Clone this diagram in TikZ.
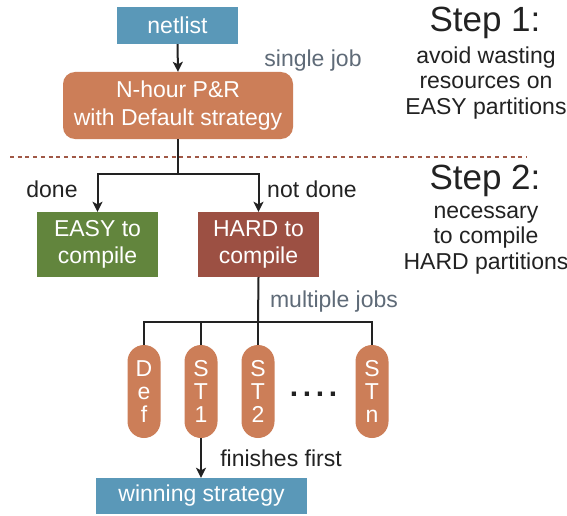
\documentclass[tikz,border=0pt]{standalone}
\usepackage{fontspec}
\setmainfont{Liberation Sans}
\usetikzlibrary{arrows.meta}
\definecolor{cblue}{HTML}{5A98B8}
\definecolor{corange}{HTML}{CC7E58}
\definecolor{cgreen}{HTML}{62853D}
\definecolor{cred}{HTML}{9C5043}
\definecolor{cgray}{HTML}{5F6B78}
\definecolor{cdot}{HTML}{A05846}
\definecolor{cink}{HTML}{222222}
\tikzset{
  box/.style={draw=none, text=white, align=center, inner sep=0pt,
    font=\fontsize{23}{27.5}\selectfont},
  bluebox/.style={box, fill=cblue},
  pill/.style={box, fill=corange, minimum width=33pt, minimum height=93pt,
    rounded corners=16.5pt, font=\fontsize{23}{23}\selectfont},
  lbl/.style={text=cink, font=\fontsize{23}{25.5}\selectfont, inner sep=0pt},
  glbl/.style={text=cgray, font=\fontsize{23}{25}\selectfont, inner sep=0pt},
  conn/.style={draw=cink, line width=2pt},
  arr/.style={conn, -{Stealth[length=10pt,width=10pt,inset=2.5pt]}},
}
\begin{document}
\begin{tikzpicture}[x=1pt,y=-1pt]
\useasboundingbox (0,0) rectangle (567,516);
\fill[white] (0,0) rectangle (567,516);

% nodes
\node[bluebox, minimum width=121pt, minimum height=37pt] (net) at (177.5,25.5) {netlist};
\node[box, fill=corange, minimum width=230pt, minimum height=67pt, rounded corners=12pt] (pr) at (178,105.5) {N-hour P\&R\\with Default strategy};
\node[box, fill=cgreen, minimum width=121pt, minimum height=65pt] (easy) at (97.5,244.5) {EASY to\\compile};
\node[box, fill=cred, minimum width=121pt, minimum height=65pt] (hard) at (258.5,244.5) {HARD to\\compile};

\node[pill] (def) at (144,391.5) {D\\e\\f};
\node[pill] (st1) at (201,391.5) {S\\T\\1};
\node[pill] (st2) at (258,391.5) {S\\T\\2};
\node[pill] (stn) at (372,391.5) {S\\T\\n};
\node[anchor=base, inner sep=0pt, text=cink, font=\fontsize{30}{30}\selectfont\bfseries] (dots) at (313.5,396) {.\kern4.6pt.\kern4.6pt.\kern4.6pt.};

\node[bluebox, minimum width=211pt, minimum height=36pt] (win) at (201.5,496) {winning strategy};

% labels
\node[glbl] (single) at (313,61) {single job};
\node[lbl] (done) at (52,189) {done};
\node[lbl] (notdone) at (312,189) {not done};
\node[glbl] (multi) at (334,302) {multiple jobs};
\node[lbl] (fin) at (281,458) {finishes first};

\node[lbl, font=\fontsize{35}{35}\selectfont] (s1) at (485,23) {Step 1:};
\node[lbl, align=center] (s1t) at (486,83) {avoid wasting\\resources on\\EASY partitions};
\node[lbl, font=\fontsize{35}{35}\selectfont] (s2) at (485,181) {Step 2:};
\node[lbl, align=center] (s2t) at (486,240) {necessary\\to compile\\HARD partitions};

% separator
\coordinate (sepL) at (10,157);
\coordinate (sepR) at (527,157);
\draw[cdot, line width=2pt, dash pattern=on 4pt off 3.7pt] (sepL) -- (sepR);

% connectors
\draw[arr] (net.south) -- (pr.north);
\coordinate (b1) at (178,174);
\draw[conn] (pr.south) -- (b1);
\draw[arr] (b1) -| (easy.north);
\draw[arr] (b1) -| (hard.north);

\coordinate (b2) at (258,322);
\draw[conn] (hard.south) -- (b2);
\draw[conn] (b2) -| (def.north);
\draw[conn] (b2) -| (st1.north);
\draw[conn] (b2) -- (st2.north);
\draw[conn] (b2) -| (stn.north);

\draw[arr] (st1.south) -- (win.north -| st1.south);
\end{tikzpicture}
\end{document}
